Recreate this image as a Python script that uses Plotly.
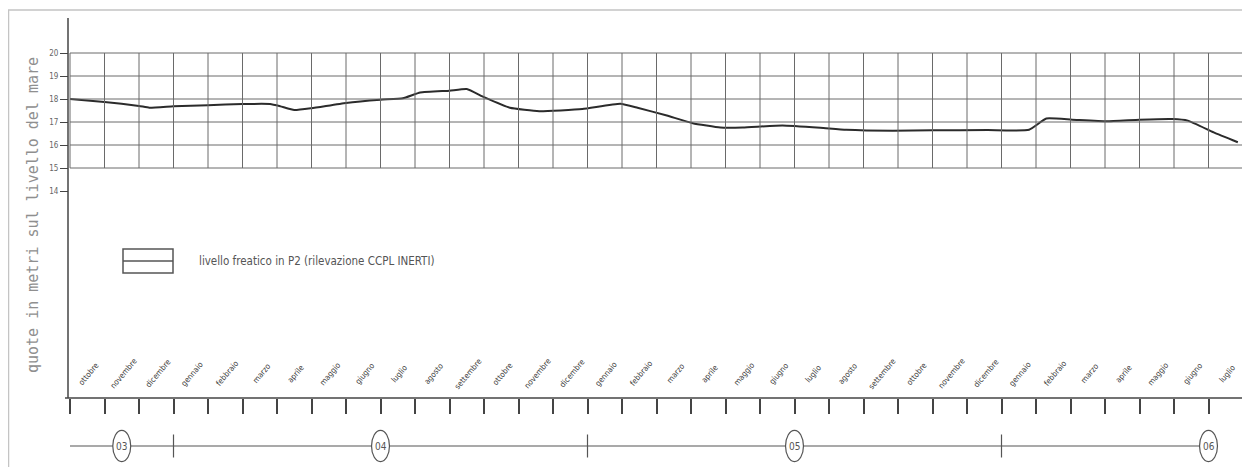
import plotly.graph_objects as go

# month position (months since 1 Oct 2003) and groundwater level (m a.s.l.)
mesi_x = [0.0, 1.0, 2.0, 2.3, 3.0, 4.0, 5.0, 5.8, 6.1, 6.5, 7.0, 8.0, 9.0, 9.65,
          10.15, 11.0, 11.5, 12.0, 12.75, 13.6, 14.85, 15.95, 16.45, 17.3, 18.05,
          18.85, 19.5, 20.65, 21.75, 22.5, 23.85, 25.0, 26.6, 27.8, 28.3, 29.05,
          30.05, 31.0, 31.95, 32.4, 33.15, 33.85]
livello = [18.00, 17.87, 17.70, 17.62, 17.68, 17.73, 17.78, 17.78, 17.68, 17.52,
           17.60, 17.83, 17.97, 18.03, 18.28, 18.36, 18.43, 18.08, 17.62, 17.47,
           17.56, 17.79, 17.62, 17.28, 16.95, 16.76, 16.76, 16.85, 16.75, 16.66,
           16.62, 16.64, 16.65, 16.66, 17.15, 17.10, 17.03, 17.10, 17.13, 17.06,
           16.55, 16.12]

nomi_mesi = ["ottobre", "novembre", "dicembre", "gennaio", "febbraio", "marzo",
             "aprile", "maggio", "giugno", "luglio", "agosto", "settembre"]
mesi = [nomi_mesi[i % 12] for i in range(34)]   # ottobre 2003 -> luglio 2006
anni = ["03", "04", "05", "06"]
inizio_anno = [-9, 3, 15, 27]                   # month index of 1 January
y_ticks = [14, 15, 16, 17, 18, 19, 20]
griglia_y = [15, 16, 17, 18, 19, 20]

# the page puts the figure 8px in from the window corner
OFF = 8
W, H = 1250 - OFF, 467 - OFF
PX_MESE = 34.5        # screen pixels per month
X0_PX = 70            # screen x of month 0
PX_M = 23             # screen pixels per metre
Y20_PX = 53           # screen y of 20 m


def xv(sx):
    return (sx - X0_PX) / PX_MESE


def yv(sy):
    return 20 - (sy - Y20_PX) / PX_M


x_range = [xv(OFF), xv(OFF + W)]
y_range = [yv(OFF + H), yv(OFF)]

GRID = "#6a6a6a"
INK = "#444444"
FONT_N = "Liberation Sans Narrow, DejaVu Sans Condensed, Roboto, sans-serif"

fig = go.Figure()
fig.add_trace(go.Scatter(
    x=mesi_x, y=livello, mode="lines",
    line=dict(color="#2b2b2b", width=2, shape="spline", smoothing=0.4),
    name="livello freatico in P2", showlegend=False, hoverinfo="x+y",
))

shapes = []
# outer frame of the scan
shapes.append(dict(type="rect", xref="paper", yref="paper",
                   x0=0.5 / W, x1=1.02, y0=-0.02, y1=1 - 2 / H,
                   line=dict(color="#c4c4c4", width=1.5)))
# grid
n = len(mesi)
for i in range(n + 1):
    shapes.append(dict(type="line", xref="x", yref="y", x0=i, x1=i,
                       y0=min(griglia_y), y1=max(griglia_y),
                       line=dict(color=GRID, width=1)))
for g in griglia_y:
    shapes.append(dict(type="line", xref="x", yref="y", x0=0, x1=n, y0=g, y1=g,
                       line=dict(color=GRID, width=1)))
# y axis line
shapes.append(dict(type="line", xref="x", yref="y", x0=xv(68), x1=xv(68),
                   y0=yv(398), y1=yv(18), line=dict(color=INK, width=1.5)))
# x axis line
shapes.append(dict(type="line", xref="x", yref="y", x0=xv(65), x1=n,
                   y0=yv(398), y1=yv(398), line=dict(color=INK, width=1.5)))
# year line
y_anni = yv(446)
shapes.append(dict(type="line", xref="x", yref="y", x0=0, x1=33,
                   y0=y_anni, y1=y_anni, line=dict(color="#555", width=1.2)))
for s in inizio_anno:
    if 0 < s < n:
        shapes.append(dict(type="line", xref="x", yref="y", x0=s, x1=s,
                           y0=y_anni - 0.5, y1=y_anni + 0.5,
                           line=dict(color="#555", width=1.2)))
centri_anni = []
for s in inizio_anno:
    c = s + 6 if s >= 0 else (s + 12) / 2
    centri_anni.append(c)
    shapes.append(dict(type="circle", xref="x", yref="y",
                       x0=c - 0.26, x1=c + 0.26, y0=y_anni - 0.68, y1=y_anni + 0.68,
                       line=dict(color="#555", width=1.2), fillcolor="white"))
# legend box
shapes.append(dict(type="rect", xref="x", yref="y", x0=xv(123), x1=xv(173),
                   y0=yv(273), y1=yv(249), line=dict(color="#555", width=1.5)))
shapes.append(dict(type="line", xref="x", yref="y", x0=xv(123), x1=xv(173),
                   y0=yv(261), y1=yv(261), line=dict(color="#555", width=1.5)))

annotations = []
for i, m in enumerate(mesi):
    annotations.append(dict(x=i + 0.55, y=yv(373), xref="x", yref="y", text=m,
                            showarrow=False, textangle=-50,
                            font=dict(size=8, color="#3a3a3a", family=FONT_N)))
for a, c in zip(anni, centri_anni):
    annotations.append(dict(x=c, y=y_anni, xref="x", yref="y", text=a,
                            showarrow=False,
                            font=dict(size=10, color="#555", family=FONT_N)))
annotations.append(dict(x=xv(197), y=yv(261), xref="x", yref="y",
                        text="livello freatico in P2 (rilevazione CCPL INERTI)",
                        showarrow=False, xanchor="left",
                        font=dict(size=11.5, color="#555", family=FONT_N)))
annotations.append(dict(x=xv(33), y=yv(215), xref="x", yref="y",
                        text="quote in metri sul livello del mare",
                        showarrow=False, textangle=-90,
                        font=dict(size=15, color="#8f8f8f", family="DejaVu Sans Mono")))

fig.update_layout(
    width=W, height=H,
    margin=dict(l=0, r=0, t=0, b=0),
    paper_bgcolor="white", plot_bgcolor="white",
    showlegend=False,
    xaxis=dict(range=x_range, domain=[0, 1], anchor="free",
               position=1 - (398 - OFF) / H, showgrid=False, zeroline=False,
               showline=False, tickvals=list(range(n + 1)), ticks="outside",
               ticklen=15, tickwidth=1.5, tickcolor=INK, showticklabels=False),
    yaxis=dict(range=y_range, domain=[0, 1], anchor="free",
               position=(68 - OFF) / W,
               showgrid=False, zeroline=False, showline=False,
               tickvals=y_ticks, ticks="outside", ticklen=8, tickwidth=1.3,
               tickcolor=INK, tickfont=dict(size=8, color="#666", family=FONT_N)),
    shapes=shapes,
    annotations=annotations,
)

fig.write_html("out.html")
